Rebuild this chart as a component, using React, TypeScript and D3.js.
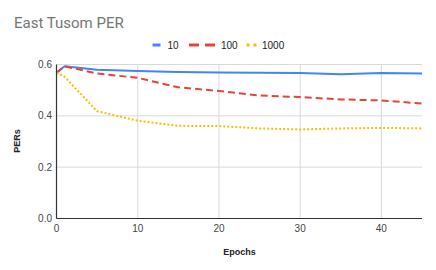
import React from "react";
import * as d3 from "d3";

const title = "East Tusom PER";
const xLabel = "Epochs";
const yLabel = "PERs";
const epochs = [0, 1, 5, 10, 15, 20, 25, 30, 35, 40, 45];
const series10 = [0.568, 0.593, 0.58, 0.575, 0.571, 0.569, 0.568, 0.567, 0.562, 0.567, 0.565];
const series100 = [0.568, 0.593, 0.565, 0.548, 0.511, 0.497, 0.479, 0.473, 0.464, 0.46, 0.448];
const series1000 = [0.568, 0.552, 0.418, 0.381, 0.361, 0.36, 0.351, 0.347, 0.351, 0.353, 0.351];
const seriesNames = ["10", "100", "1000"];
const xTicks = [0, 10, 20, 30, 40];
const yTicks = [0, 0.2, 0.4, 0.6];

const W = 436;
const H = 270;

export default function App() {
  const x = d3.scaleLinear().domain([0, 45]).range([56.5, 422]);
  const y = d3.scaleLinear().domain([0, 0.6]).range([218.5, 64.5]);
  const line = d3
    .line<number>()
    .x((_, i) => x(epochs[i]))
    .y((d) => y(d));

  const styles = [
    { color: "#4285F4", dash: undefined as string | undefined, data: series10 },
    { color: "#EA4335", dash: "7,4", data: series100 },
    { color: "#FBBC04", dash: "2,2", data: series1000 },
  ];

  const font = "Arial, 'Liberation Sans', sans-serif";

  // legend layout
  const legendItems = [
    { sx: 152.5, sw: 8, dash: undefined as string | undefined, tx: 167.5 },
    { sx: 189, sw: 27, dash: "10,6", tx: 221 },
    { sx: 246.5, sw: 10, dash: "3,4", tx: 262 },
  ];

  return (
    <svg
      width={W}
      height={H}
      style={{ position: "absolute", left: 0, top: 0, background: "#fff" }}
      fontFamily={font}
    >
      <rect x={0} y={0} width={W} height={H} fill="#fff" />
      <text x={14} y={28} fontSize={15} fill="#757575" fontFamily="Roboto, Arial, sans-serif">
        {title}
      </text>

      {/* legend */}
      {legendItems.map((it, i) => (
        <g key={i}>
          <line
            x1={it.sx}
            x2={it.sx + it.sw}
            y1={45}
            y2={45}
            stroke={styles[i].color}
            strokeWidth={3}
            strokeDasharray={it.dash}
          />
          <text x={it.tx} y={48.5} fontSize={10} fill="#222">
            {seriesNames[i]}
          </text>
        </g>
      ))}

      {/* grid */}
      {yTicks.map((t) => (
        <line key={"gy" + t} x1={x(0)} x2={x(45)} y1={y(t)} y2={y(t)} stroke="#d9d9d9" strokeWidth={1} />
      ))}
      {xTicks
        .filter((t) => t > 0)
        .map((t) => (
          <line key={"gx" + t} x1={x(t)} x2={x(t)} y1={y(0.6)} y2={y(0)} stroke="#d9d9d9" strokeWidth={1} />
        ))}

      {/* series */}
      {styles.map((s, i) => (
        <path
          key={i}
          d={line(s.data) || ""}
          fill="none"
          stroke={s.color}
          strokeWidth={2}
          strokeDasharray={s.dash}
          strokeLinejoin="round"
        />
      ))}

      {/* axes */}
      <line x1={x(0)} x2={x(0)} y1={y(0.6)} y2={y(0)} stroke="#333" strokeWidth={1.2} />
      <line x1={x(0)} x2={x(45)} y1={y(0)} y2={y(0)} stroke="#333" strokeWidth={1.2} />

      {yTicks.map((t) => (
        <text key={"ty" + t} x={52} y={y(t) + 3.5} fontSize={10} fill="#444" textAnchor="end">
          {d3.format(".1f")(t)}
        </text>
      ))}
      {xTicks.map((t) => (
        <text key={"tx" + t} x={x(t)} y={232} fontSize={10} fill="#444" textAnchor="middle">
          {t}
        </text>
      ))}

      <text x={239.5} y={255} fontSize={9} fontWeight="bold" fill="#222" textAnchor="middle">
        {xLabel}
      </text>
      <text
        transform={`translate(20,${141}) rotate(-90)`}
        fontSize={9}
        fontWeight="bold"
        fill="#222"
        textAnchor="middle"
      >
        {yLabel}
      </text>
    </svg>
  );
}
